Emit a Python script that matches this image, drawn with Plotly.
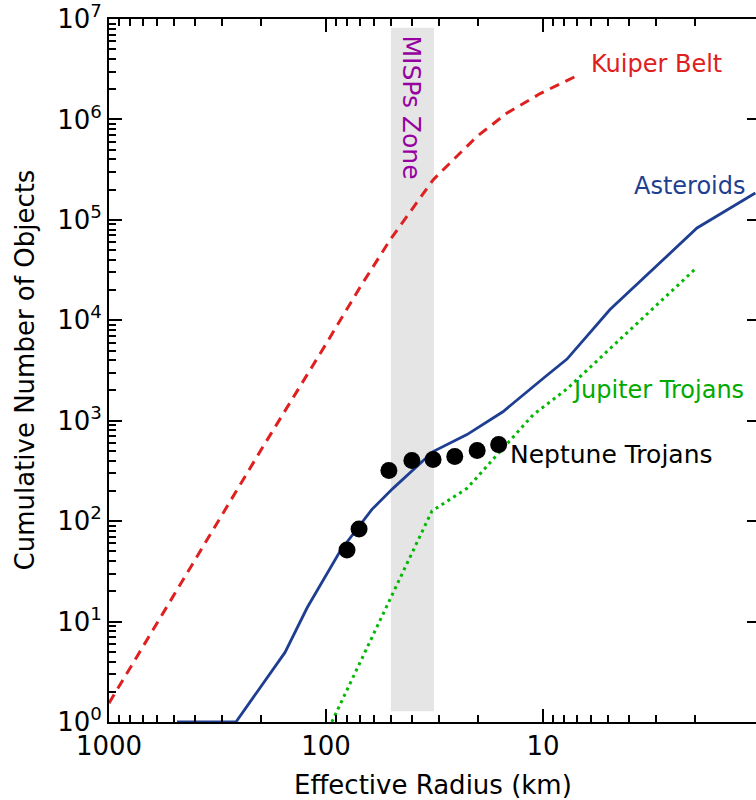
import numpy as np
import plotly.graph_objects as go

# Kuiper Belt model (radius in km, cumulative number)
kbo_r = [1000, 500, 236, 200, 100, 70, 50.7, 40, 32.1, 30, 20.1, 14.7, 10.3, 7.1]
kbo_n = [1.54, 18.6, 279, 505, 5.8e3, 2.1e4, 6.3e4, 1.3e5, 2.5e5, 2.9e5, 6.8e5, 1.15e6, 1.81e6, 2.67e6]

# Main-belt asteroids
ast_r = [486, 260, 154.5, 122, 86, 61.4, 49.1, 32.1, 22.4, 15.3, 9.8, 7.75, 4.91, 1.95, 1.05]
ast_n = [1, 1, 4.93, 13.8, 50.5, 131, 212, 493, 727, 1228, 2727, 4110, 1.28e4, 8.3e4, 1.85e5]

# Jupiter Trojans
jt_r = [94, 32.5, 22.4, 15.8, 11.1, 7.75, 2.0]
jt_n = [1.0, 126, 212, 493, 1146, 2074, 3.2e4]

# Neptune Trojans
nt_r = [80, 70.4, 51.3, 40.2, 32.1, 25.5, 20.1, 16.0]
nt_n = [51.6, 83.3, 320, 402, 411, 440, 505, 578]

# MISPs zone extent
zone_r = [50.2, 31.8]
zone_n = [1.28, 8.2e6]

# Axis ticks
x_ticks = [1000, 100, 10]
x_tick_text = ["1000", "100", "10"]
y_ticks = [10 ** k for k in range(8)]
y_tick_text = ["10<sup>%d</sup>" % k for k in range(8)]

FONT = "DejaVu Sans"
RED = "rgb(222,32,32)"
BLUE = "rgb(30,62,145)"
GREEN = "rgb(0,185,0)"
GREEN_TXT = "rgb(0,170,0)"
PURPLE = "rgb(150,0,160)"

fig = go.Figure()

fig.add_trace(go.Scatter(
    x=[zone_r[0], zone_r[1], zone_r[1], zone_r[0], zone_r[0]],
    y=[zone_n[0], zone_n[0], zone_n[1], zone_n[1], zone_n[0]],
    fill="toself", fillcolor="rgb(229,229,229)", mode="lines",
    line=dict(width=0), hoverinfo="skip", showlegend=False))

fig.add_trace(go.Scatter(x=kbo_r, y=kbo_n, mode="lines",
                         line=dict(color=RED, width=3, dash="10px,7px"),
                         showlegend=False))
fig.add_trace(go.Scatter(x=jt_r, y=jt_n, mode="lines",
                         line=dict(color=GREEN, width=3, dash="3px,4px"),
                         showlegend=False))
fig.add_trace(go.Scatter(x=ast_r, y=ast_n, mode="lines",
                         line=dict(color=BLUE, width=2.8),
                         showlegend=False))
fig.add_trace(go.Scatter(x=nt_r, y=nt_n, mode="markers",
                         marker=dict(color="black", size=17),
                         showlegend=False))

# invisible trace so the right-hand tick axis is drawn
fig.add_trace(go.Scatter(x=[100], y=[10], yaxis="y2", mode="markers",
                         marker=dict(opacity=0), hoverinfo="skip",
                         showlegend=False))

minor_x = [m * 10 ** d for d in range(0, 3) for m in range(2, 10)]
minor_y = [m * 10 ** d for d in range(0, 7) for m in range(2, 10)]

fig.update_layout(
    width=756, height=800,
    margin=dict(l=109, r=0, t=15, b=78),
    paper_bgcolor="white", plot_bgcolor="white",
    font=dict(family=FONT, size=24, color="black"),
    xaxis=dict(
        type="log", range=[3, np.log10(1.043)],
        showline=True, linecolor="black", linewidth=2, mirror="ticks",
        ticks="inside", ticklen=13, tickwidth=2, tickcolor="black",
        tickvals=x_ticks, ticktext=x_tick_text,
        tickfont=dict(size=26), showgrid=False, zeroline=False,
        minor=dict(tickvals=minor_x, ticks="inside", ticklen=7,
                   tickwidth=2, tickcolor="black", showgrid=False),
    ),
    yaxis=dict(
        type="log", range=[0, 7],
        showline=True, linecolor="black", linewidth=2,
        ticks="inside", ticklen=13, tickwidth=2, tickcolor="black",
        tickvals=y_ticks, ticktext=y_tick_text, ticklabeloverflow="allow",
        tickfont=dict(size=26), showgrid=False, zeroline=False,
        minor=dict(tickvals=minor_y, ticks="inside", ticklen=7,
                   tickwidth=2, tickcolor="black", showgrid=False),
    ),
    yaxis2=dict(
        type="log", range=[0, 7], overlaying="y", side="right",
        showline=False, ticks="inside", ticklen=9, tickwidth=2,
        tickcolor="black", tickvals=y_ticks, showticklabels=False,
        showgrid=False, zeroline=False,
    ),
)

lx = np.log10
annotations = [
    dict(text="Kuiper Belt", x=lx(6.14), y=lx(3.58e6), xanchor="left",
         font=dict(color=RED, size=24)),
    dict(text="Asteroids", x=lx(1.13), y=lx(2.17e5), xanchor="right",
         font=dict(color=BLUE, size=24)),
    dict(text="Jupiter Trojans", x=lx(7.5), y=lx(2.03e3), xanchor="left",
         font=dict(color=GREEN_TXT, size=24)),
    dict(text="Neptune Trojans", x=lx(14.5), y=lx(460), xanchor="left",
         font=dict(color="black", size=25)),
    dict(text="MISPs Zone", x=lx(40.2), y=lx(1.32e6), textangle=90,
         font=dict(color=PURPLE, size=25)),
]
for a in annotations:
    a.update(xref="x", yref="y", showarrow=False, yanchor="middle")
    if "xanchor" not in a:
        a["xanchor"] = "center"

annotations += [
    dict(text="Effective Radius (km)", xref="paper", yref="paper",
         x=0.5, y=0, yanchor="middle", xanchor="center", yshift=-63,
         showarrow=False, font=dict(size=26)),
    dict(text="Cumulative Number of Objects", xref="paper", yref="paper",
         x=0, y=0.5, xanchor="center", yanchor="middle", xshift=-85,
         textangle=-90, showarrow=False, font=dict(size=26)),
]
fig.update_layout(annotations=annotations)

fig.write_html("out.html")
